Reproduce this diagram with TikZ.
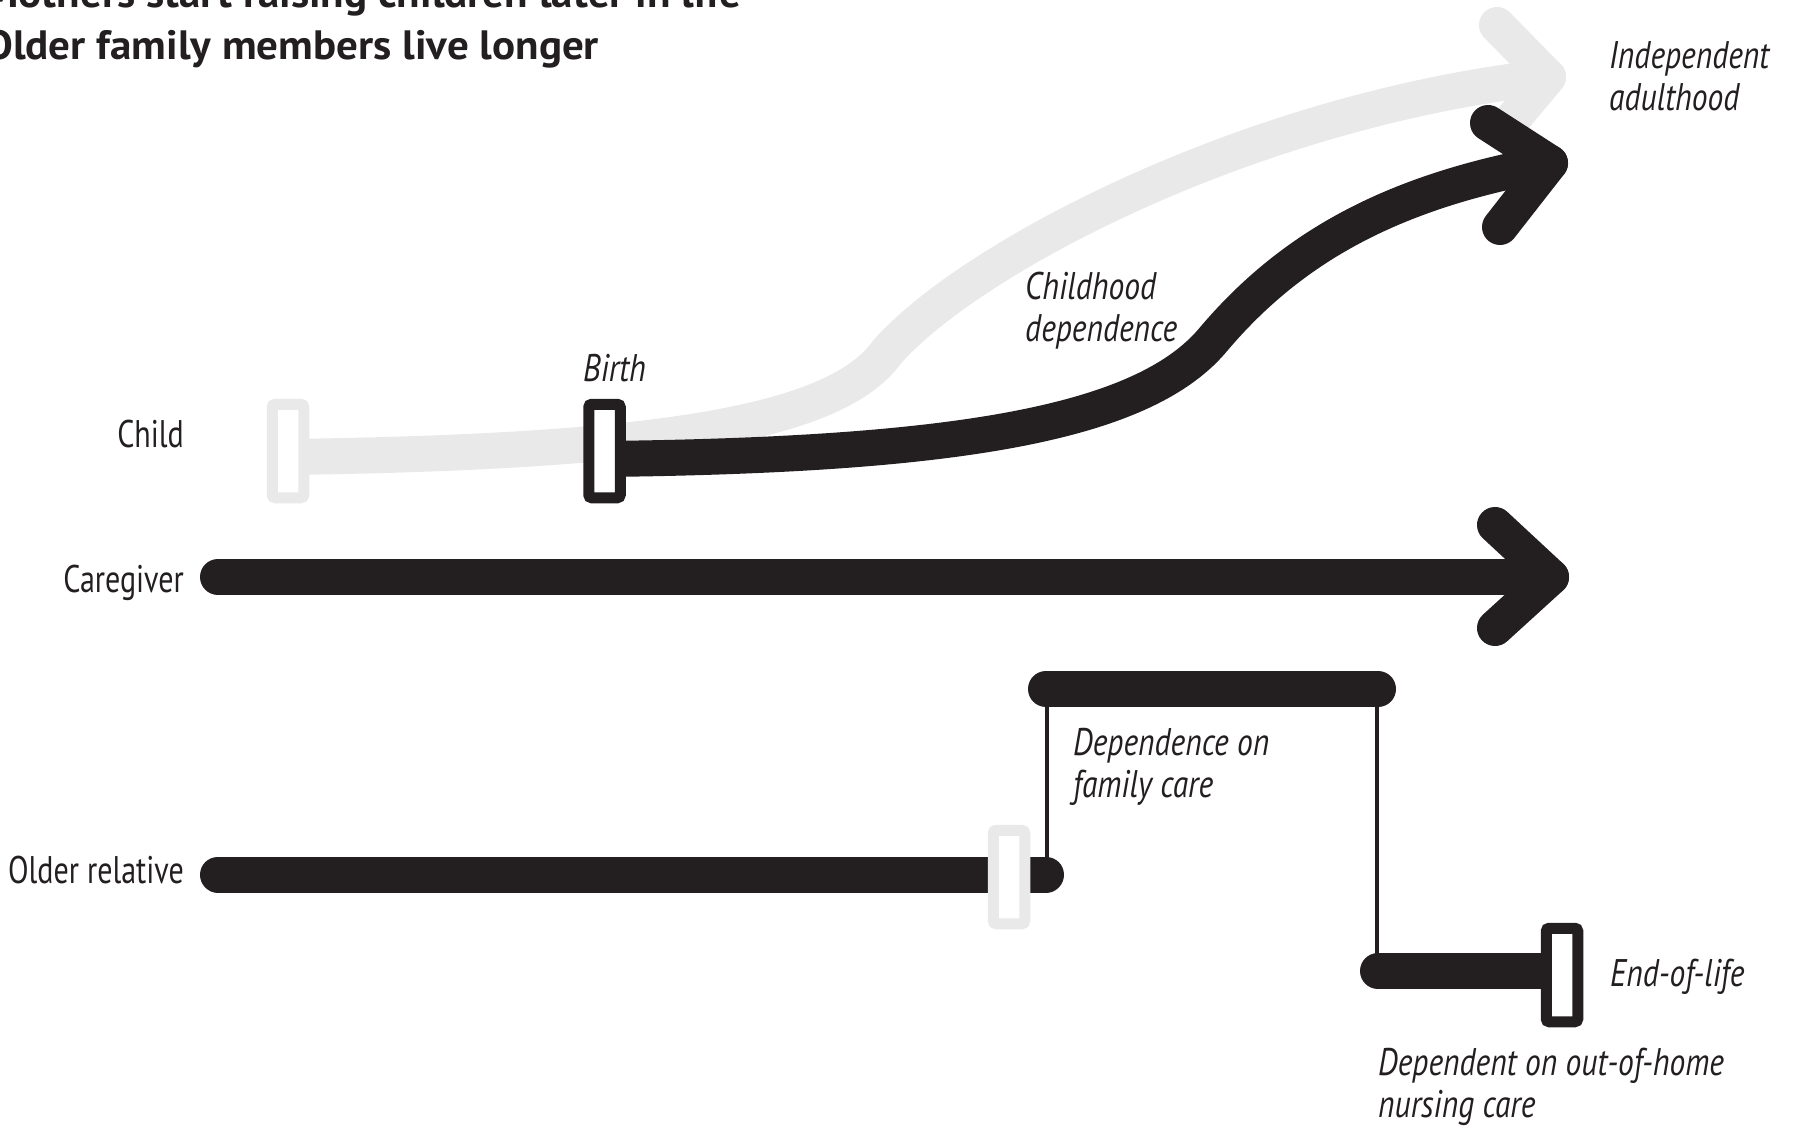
\documentclass[tikz,border=0pt]{standalone}
\usepackage{fontspec}
\setmainfont{PT Sans}
\newfontfamily\condfont{PT Sans}[FakeStretch=0.78]
\newfontfamily\condifont{PT Sans}[FakeStretch=0.82]
\newfontfamily\titlefont{PT Sans}[FakeStretch=1.05]
\definecolor{ink}{HTML}{231F20}
\definecolor{pale}{HTML}{E8E9E8}
\begin{document}
\begin{tikzpicture}[x=1pt,y=-1pt,
  bar/.style={line width=36pt, line cap=round, line join=round},
  link/.style={line width=3.5pt, draw=ink},
  marker/.style={draw, fill=white, line width=11pt, rounded corners=3pt,
    minimum width=31.5pt, minimum height=93.5pt, inner sep=0pt},
  lbl/.style={font=\condfont\fontsize{38.5}{42}\selectfont, text=ink, inner sep=0pt},
  ilbl/.style={font=\condifont\itshape\fontsize{38.5}{42}\selectfont, text=ink, inner sep=0pt},
  ttl/.style={font=\titlefont\bfseries\fontsize{41}{52}\selectfont, text=ink, inner sep=0pt, anchor=base west}]
\useasboundingbox (0,0) rectangle (1794,1127);

% title
\node[ttl] (t1) at (-16,7) {Mothers start raising children later in life};
\node[ttl] (t2) at (-16,59) {Older family members live longer};

% coordinates
\coordinate (gS) at (288,457);
\coordinate (gM) at (887,352);
\coordinate (gT) at (1548,77);
\coordinate (gA1) at (1497,25);
\coordinate (gA2) at (1502,132);
\coordinate (bS) at (604,459);
\coordinate (bM) at (1212,341);
\coordinate (bT) at (1550,163);
\coordinate (bA1) at (1488,123);
\coordinate (bA2) at (1500,227);
\coordinate (cS) at (218,577);
\coordinate (cT) at (1551,577);
\coordinate (cA1) at (1495,525);
\coordinate (cA2) at (1495,628);
\coordinate (oS) at (218,874.5);
\coordinate (oE) at (1046,874.5);
\coordinate (fL) at (1046,689);
\coordinate (fR) at (1378,689);
\coordinate (oU) at (1047,874);
\coordinate (oV) at (1047,689);
\coordinate (nU) at (1377,689);
\coordinate (nV) at (1377,971);
\coordinate (nS) at (1378,971);
\coordinate (nE) at (1560,971);

% grey (earlier) child path
\draw[bar, pale] (gS) .. controls (650,452) and (835,425) .. (gM)
  .. controls (970,258) and (1250,110) .. (gT);
\draw[bar, pale] (gA1) -- (gT) -- (gA2);
\node[marker, draw=pale] (gmark) at (288,451) {};

% black child path
\draw[bar, ink] (bS) .. controls (950,455) and (1140,425) .. (bM)
  .. controls (1295,242) and (1400,190) .. (bT);
\draw[bar, ink] (bA1) -- (bT) -- (bA2);
\node[marker, draw=ink] (bmark) at (604.5,451) {};

% caregiver
\draw[bar, ink] (cS) -- (cT);
\draw[bar, ink] (cA1) -- (cT) -- (cA2);

% older relative
\draw[bar, ink] (oS) -- (oE);
\draw[link] (oU) -- (oV);
\draw[link] (nU) -- (nV);
\draw[bar, ink] (fL) -- (fR);
\draw[bar, ink] (nS) -- (nE);
\node[marker, draw=pale] (omark) at (1009,877) {};
\node[marker, draw=ink] (emark) at (1562,975) {};

% row labels
\node[lbl, anchor=base east] (lchild) at (184,447) {Child};
\node[lbl, anchor=base east] (lcare) at (184,592) {Caregiver};
\node[lbl, anchor=base east] (lold) at (184,883) {Older relative};

% italic labels
\node[ilbl, anchor=base west] (birth) at (583,381) {Birth};
\node[ilbl, anchor=base west] (cd1) at (1025,299) {Childhood};
\node[ilbl, anchor=base west] (cd2) at (1025,341) {dependence};
\node[ilbl, anchor=base west] (ia1) at (1609,68) {Independent};
\node[ilbl, anchor=base west] (ia2) at (1609,110) {adulthood};
\node[ilbl, anchor=base west] (df1) at (1073,755) {Dependence on};
\node[ilbl, anchor=base west] (df2) at (1073,797) {family care};
\node[ilbl, anchor=base west] (eol) at (1610,986) {End-of-life};
\node[ilbl, anchor=base west] (dn1) at (1378,1075) {Dependent on out-of-home};
\node[ilbl, anchor=base west] (dn2) at (1378,1117) {nursing care};
\end{tikzpicture}
\end{document}
